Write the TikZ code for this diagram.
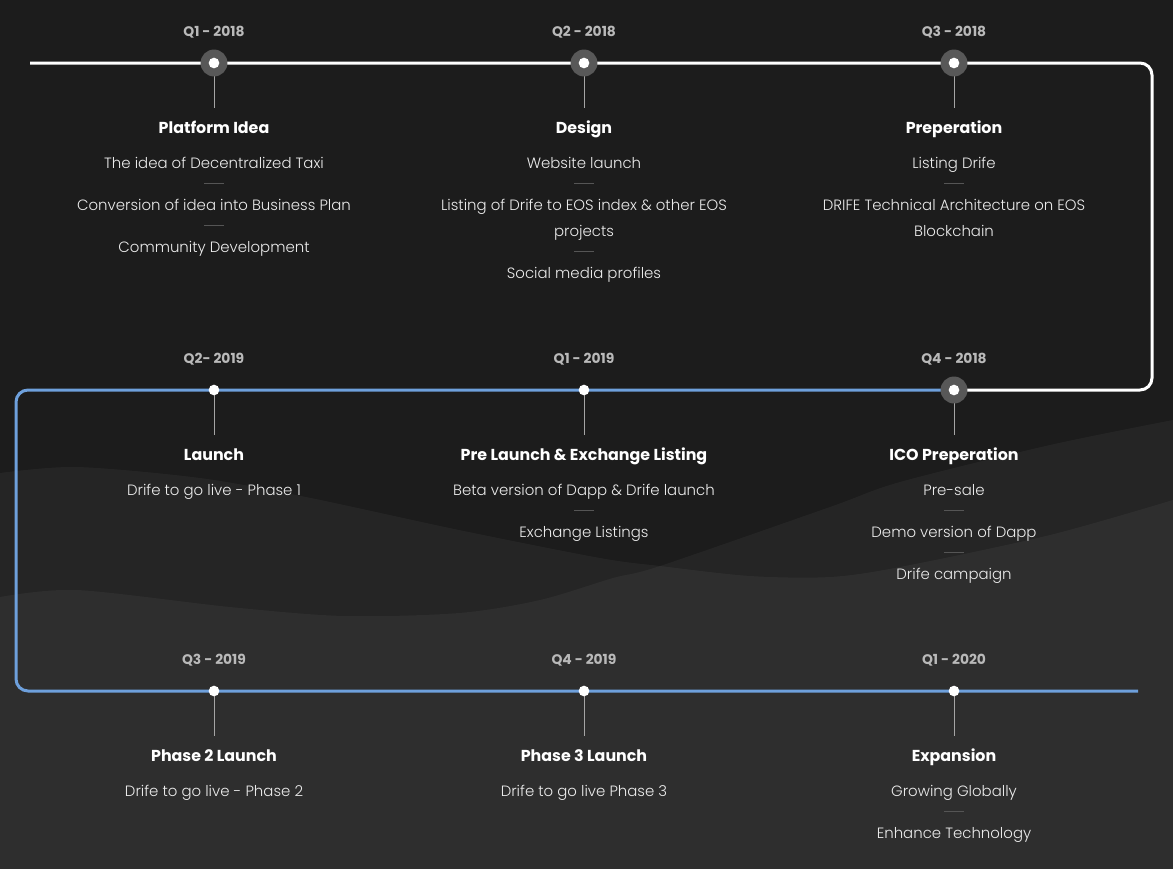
\documentclass[tikz,border=0pt]{standalone}
\usepackage{fontspec}
\setmainfont{Poppins}
\IfFontExistsTF{Poppins Light}{\newfontfamily\lightfont{Poppins Light}}{\newfontfamily\lightfont{Poppins}}
\definecolor{bgdark}{RGB}{28,28,28}
\definecolor{linkblue}{RGB}{110,160,220}
\definecolor{halogray}{RGB}{88,88,88}
\definecolor{datec}{RGB}{185,185,185}
\definecolor{itemc}{RGB}{236,236,236}
\definecolor{sepc}{RGB}{85,85,85}
\definecolor{stemc}{RGB}{165,165,165}
\pgfdeclarelayer{back}
\pgfsetlayers{back,main}
\begin{document}
\begin{tikzpicture}[x=0.75pt, y=-0.75pt,
  dot/.style={circle, fill=white, inner sep=0pt, minimum size=8pt},
  halo/.style={halogray},
  date/.style={anchor=base, inner sep=0pt, text=datec, font=\bfseries\fontsize{10.4}{12}\selectfont},
  ttl/.style={anchor=base, inner sep=0pt, text=white, font=\bfseries\fontsize{11.9}{14}\selectfont},
  item/.style={anchor=base, inner sep=0pt, text=itemc, font=\lightfont\fontsize{11.2}{13}\selectfont},
  stem/.style={stemc, line width=0.75pt},
  sep/.style={sepc, line width=0.75pt},
  wline/.style={white, line width=2.25pt, rounded corners=9pt},
  bline/.style={linkblue, line width=2.25pt, rounded corners=9pt},
  wave/.style={fill=white, fill opacity=0.045}]
  \useasboundingbox (0,0) rectangle (1173,869);

  % milestones, first row
  \node[dot] (q118) at (214,63) {};
  \node[dot] (q218) at (584,63) {};
  \node[dot] (q318) at (954,63) {};
  \node[date] (dq118) at (214,36) {Q1 - 2018};
  \node[date] (dq218) at (584,36) {Q2 - 2018};
  \node[date] (dq318) at (954,36) {Q3 - 2018};
  \node[ttl] (tq118) at (214,133) {Platform Idea};
  \node[item] (iq118a) at (214,168) {The idea of Decentralized Taxi};
  \node[item] (iq118b) at (214,210) {Conversion of idea into Business Plan};
  \node[item] (iq118c) at (214,252) {Community Development};
  \node[ttl] (tq218) at (584,133) {Design};
  \node[item] (iq218a) at (584,168) {Website launch};
  \node[item] (iq218b) at (584,210) {Listing of Drife to EOS index \& other EOS};
  \node[item] (iq218c) at (584,236) {projects};
  \node[item] (iq218d) at (584,278) {Social media profiles};
  \node[ttl] (tq318) at (954,133) {Preperation};
  \node[item] (iq318a) at (954,168) {Listing Drife};
  \node[item] (iq318b) at (954,210) {DRIFE Technical Architecture on EOS};
  \node[item] (iq318c) at (954,236) {Blockchain};

  % second row
  \node[dot] (q219) at (214,390) {};
  \node[dot] (q119) at (584,390) {};
  \node[dot] (q418) at (954,390) {};
  \node[date] (dq219) at (214,363) {Q2- 2019};
  \node[date] (dq119) at (584,363) {Q1 - 2019};
  \node[date] (dq418) at (954,363) {Q4 - 2018};
  \node[ttl] (tq219) at (214,460) {Launch};
  \node[item] (iq219a) at (214,495) {Drife to go live - Phase 1};
  \node[ttl] (tq119) at (584,460) {Pre Launch \& Exchange Listing};
  \node[item] (iq119a) at (584,495) {Beta version of Dapp \& Drife launch};
  \node[item] (iq119b) at (584,537) {Exchange Listings};
  \node[ttl] (tq418) at (954,460) {ICO Preperation};
  \node[item] (iq418a) at (954,495) {Pre-sale};
  \node[item] (iq418b) at (954,537) {Demo version of Dapp};
  \node[item] (iq418c) at (954,579) {Drife campaign};

  % third row
  \node[dot] (q319) at (214,691) {};
  \node[dot] (q419) at (584,691) {};
  \node[dot] (q120) at (954,691) {};
  \node[date] (dq319) at (214,664) {Q3 - 2019};
  \node[date] (dq419) at (584,664) {Q4 - 2019};
  \node[date] (dq120) at (954,664) {Q1 - 2020};
  \node[ttl] (tq319) at (214,761) {Phase 2 Launch};
  \node[item] (iq319a) at (214,796) {Drife to go live - Phase 2};
  \node[ttl] (tq419) at (584,761) {Phase 3 Launch};
  \node[item] (iq419a) at (584,796) {Drife to go live Phase 3};
  \node[ttl] (tq120) at (954,761) {Expansion};
  \node[item] (iq120a) at (954,796) {Growing Globally};
  \node[item] (iq120b) at (954,838) {Enhance Technology};

  \coordinate (wstart) at (30,63);
  \coordinate (wturn1) at (1152,63);
  \coordinate (wturn2) at (1152,390);
  \coordinate (bturn1) at (16,390);
  \coordinate (bturn2) at (16,691);
  \coordinate (bend) at (1138,691);

  \begin{pgfonlayer}{back}
    \fill[bgdark] (0,0) rectangle (1173,869);
    \fill[wave] plot[smooth] coordinates {(0,473) (77,467) (200,478) (306,497) (459,530) (600,558) (660,566) (750,576) (830,577) (900,567) (1050,535) (1173,500)} -- (1173,869) -- (0,869) -- cycle;
    \fill[wave] plot[smooth] coordinates {(0,597) (77,590) (230,607) (344,616) (459,613) (540,600) (613,578) (660,566) (830,507) (900,482) (1050,445) (1173,420)} -- (1173,869) -- (0,869) -- cycle;
    \draw[wline] (wstart) -- (q118.center) -- (q218.center) -- (q318.center) -- (wturn1) -- (wturn2) -- (q418.center);
    \draw[bline] (q418.center) -- (q119.center) -- (q219.center) -- (bturn1) -- (bturn2) -- (q319.center) -- (q419.center) -- (q120.center) -- (bend);
    \draw[stem] (q118.center) -- ++(0,45);
    \draw[stem] (q218.center) -- ++(0,45);
    \draw[stem] (q318.center) -- ++(0,45);
    \draw[stem] (q219.center) -- ++(0,45);
    \draw[stem] (q119.center) -- ++(0,45);
    \draw[stem] (q418.center) -- ++(0,45);
    \draw[stem] (q319.center) -- ++(0,45);
    \draw[stem] (q419.center) -- ++(0,45);
    \draw[stem] (q120.center) -- ++(0,45);
    % grey rings round the 2018 points
    \fill[halo] (q118) circle[radius=10.1pt];
    \fill[halo] (q218) circle[radius=10.1pt];
    \fill[halo] (q318) circle[radius=10.1pt];
    \fill[halo] (q418) circle[radius=10.1pt];
  \end{pgfonlayer}

  % short rules between items
  \draw[sep] (204,183) -- (224,183);
  \draw[sep] (204,225) -- (224,225);
  \draw[sep] (574,183) -- (594,183);
  \draw[sep] (574,251) -- (594,251);
  \draw[sep] (944,183) -- (964,183);
  \draw[sep] (574,510) -- (594,510);
  \draw[sep] (944,510) -- (964,510);
  \draw[sep] (944,552) -- (964,552);
  \draw[sep] (944,811) -- (964,811);
\end{tikzpicture}
\end{document}
